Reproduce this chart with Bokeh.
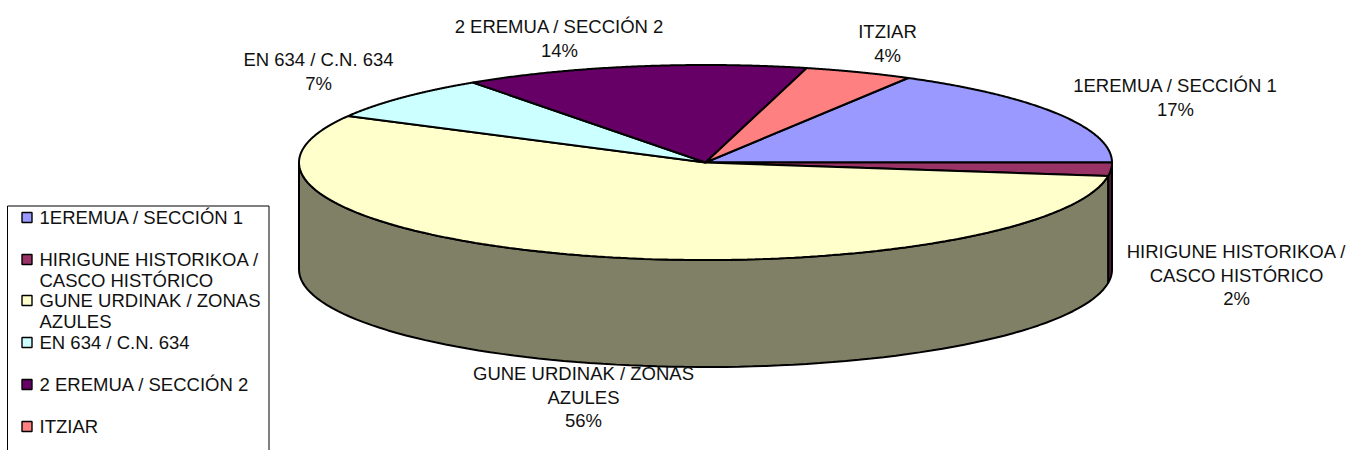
import numpy as np
from bokeh.plotting import figure
from bokeh.models import Range1d
from bokeh.core.properties import value
from bokeh.embed import file_html
from bokeh.resources import INLINE

categories = ["1EREMUA / SECCIÓN 1", "HIRIGUNE HISTORIKOA / CASCO HISTÓRICO", "GUNE URDINAK / ZONAS AZULES",
              "EN 634 / C.N. 634", "2 EREMUA / SECCIÓN 2", "ITZIAR"]
shares = [16.7, 2.2, 55.7, 7.4, 13.7, 4.3]
percent_labels = ["17%", "2%", "56%", "7%", "14%", "4%"]
legend_lines = [["1EREMUA / SECCIÓN 1"], ["HIRIGUNE HISTORIKOA /", "CASCO HISTÓRICO"], ["GUNE URDINAK / ZONAS", "AZULES"],
                ["EN 634 / C.N. 634"], ["2 EREMUA / SECCIÓN 2"], ["ITZIAR"]]
label_lines = [["1EREMUA / SECCIÓN 1"], ["HIRIGUNE HISTORIKOA /", "CASCO HISTÓRICO"], ["GUNE URDINAK / ZONAS", "AZULES"],
               ["EN 634 / C.N. 634"], ["2 EREMUA / SECCIÓN 2"], ["ITZIAR"]]

colors = ["#9999FF", "#993366", "#FFFFCC", "#CCFFFF", "#660066", "#FF8080"]
wall_colors = ["#4D4D80", "#4D1A33", "#808066", "#668080", "#330033", "#804040"]

# layout, in page pixels
CX, CY, RX, RY, DEPTH = 705, 162, 406.5, 97.5, 107
START = 60.1  # parametric angle where the first slice begins, going clockwise
label_centers = [(1175, 85), (1236, 251), (583, 373), (318, 59), (559, 26), (887, 31)]
legend_rows = [217, 259, 300, 342, 384, 426]
LINE_H = 23.5
LEG_LINE_H = 20.5
FONT = value("Liberation Sans")
FS = "18.5px"
EDGE = 2

p = figure(width=1348, height=450, output_backend="svg", toolbar_location=None,
           x_range=Range1d(0, 1348), y_range=Range1d(450, 0),
           x_axis_type=None, y_axis_type=None, min_border=0,
           background_fill_color="white", border_fill_color="white")
p.grid.visible = False
p.outline_line_color = None


def ex(t):
    return CX + RX * np.cos(np.radians(t))


def ey(t):
    return CY - RY * np.sin(np.radians(t))


total = sum(shares)
edges = [START]
for s in shares:
    edges.append(edges[-1] - s / total * 360)

# side walls: only the front half (parametric angle 180..360) can be seen
for i in range(len(shares)):
    a, b = max(edges[i + 1], -180), min(edges[i], 0)
    if b <= a:
        continue
    t = np.linspace(a, b, 90)
    xs = np.concatenate([ex(t), ex(t[::-1])])
    ys = np.concatenate([ey(t), ey(t[::-1]) + DEPTH])
    p.patch(xs, ys, fill_color=wall_colors[i], line_color="black", line_width=EDGE)

# top faces
for i in range(len(shares)):
    t = np.linspace(edges[i], edges[i + 1], 180)
    xs = np.concatenate([[CX], ex(t)])
    ys = np.concatenate([[CY], ey(t)])
    p.patch(xs, ys, fill_color=colors[i], line_color="black", line_width=EDGE)

# data labels
for lines, pct, (x, y) in zip(label_lines, percent_labels, label_centers):
    rows = lines + [pct]
    p.text([x] * len(rows), [y + k * LINE_H for k in range(len(rows))], text=rows,
           text_font=FONT, text_font_size=FS, text_color="#111111",
           text_align="center", text_baseline="middle")

# legend frame, cut off by the bottom of the picture
p.line([7, 7, 268.5, 268.5], [450, 205.5, 205.5, 450], line_color="black", line_width=1)
for lines, col, y in zip(legend_lines, colors, legend_rows):
    p.scatter([26.5], [y], marker="square", size=10, fill_color=col, line_color="black", line_width=1.4)
    p.text([39] * len(lines), [y + k * LEG_LINE_H for k in range(len(lines))], text=lines,
           text_font=FONT, text_font_size=FS, text_color="#111111",
           text_align="left", text_baseline="middle")

open("out.html", "w").write(file_html(p, INLINE))
